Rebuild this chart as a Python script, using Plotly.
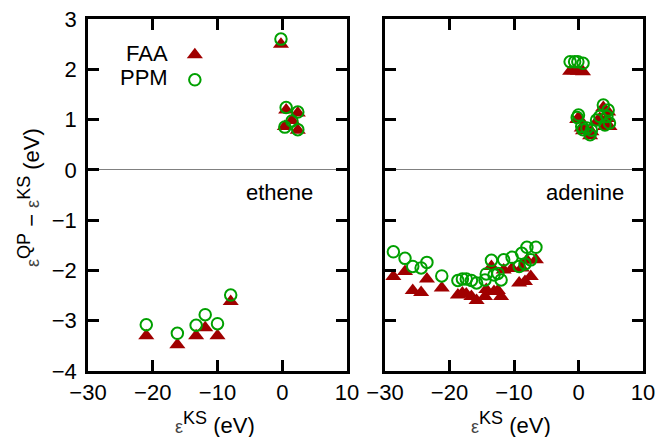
import plotly.graph_objects as go
from plotly.subplots import make_subplots

# Quasiparticle corrections eps^QP - eps^KS (eV) versus Kohn-Sham energy eps^KS (eV)
# FAA = full frequency (analytic) approach, PPM = plasmon-pole model

# ethene
eth_ks = [-21.0, -16.2, -13.3, -11.9, -10.0, -7.96, -0.2, 0.6, 2.4, 1.5, 0.4, 2.4]
eth_faa = [-3.30, -3.48, -3.30, -3.14, -3.30, -2.62, 2.50, 1.19, 1.13, 0.98, 0.86, 0.79]
eth_ppm = [-3.08, -3.25, -3.09, -2.88, -3.06, -2.49, 2.60, 1.24, 1.15, 0.97, 0.85, 0.80]

# adenine
ade_ks = [-28.7, -26.9, -25.7, -24.4, -23.5, -21.2, -18.7, -18.0, -17.4, -16.6,
          -15.8, -14.5, -14.3, -13.5, -13.1, -12.5, -12.0, -11.6, -10.3, -9.2,
          -8.8, -8.3, -8.0, -7.4, -6.6,
          -1.3, -0.6, -0.1, 0.7,
          -0.2, 0.0, 0.5, 0.7, 1.3, 1.8, 2.0, 2.8, 3.3, 3.85, 4.4, 4.6, 4.1, 4.8]
ade_faa = [-2.12, -2.02, -2.40, -2.44, -2.17, -2.35, -2.49, -2.45, -2.47, -2.52,
           -2.60, -2.52, -2.38, -1.92, -2.42, -2.40, -2.52, -1.99, -1.96, -2.25,
           -1.95, -2.22, -1.80, -2.12, -1.79,
           1.96, 1.97, 1.96, 1.95,
           1.00, 1.03, 0.83, 0.78, 0.80, 0.68, 0.76, 0.95, 1.02, 1.24, 1.02, 1.15, 0.86, 0.86]
ade_ppm = [-1.63, -1.76, -1.92, -1.95, -1.84, -2.11, -2.20, -2.17, -2.17, -2.20,
           -2.25, -2.19, -2.07, -1.80, -2.09, -2.06, -2.19, -1.79, -1.74, -1.92,
           -1.66, -1.87, -1.54, -1.79, -1.54,
           2.15, 2.15, 2.15, 2.12,
           1.04, 1.09, 0.86, 0.80, 0.83, 0.70, 0.79, 0.99, 1.06, 1.29, 1.06, 1.19, 0.89, 0.93]

x_ticks = [-30, -20, -10, 0, 10]
y_ticks = [-4, -3, -2, -1, 0, 1, 2, 3]

# legend keys (drawn in the ethene panel, labels to the left of the symbols)
legend_names = ["FAA", "PPM"]
legend_x = [-13.5, -13.5]
legend_y = [2.29, 1.79]
legend_label_x = -17.3
legend_label_y = [2.32, 1.84]

RED = "#a00000"
GREEN = "#00a000"
FONT = "Liberation Sans, Arial, sans-serif"

fig = make_subplots(rows=1, cols=2, shared_yaxes=False, horizontal_spacing=0.05)

faa_marker = dict(symbol="triangle-up", size=14, color=RED, line=dict(width=0))
ppm_marker = dict(symbol="circle-open", size=11.5, color=GREEN, line=dict(width=2, color=GREEN))

for col, (xs, faa, ppm) in enumerate([(eth_ks, eth_faa, eth_ppm), (ade_ks, ade_faa, ade_ppm)], start=1):
    fig.add_trace(go.Scatter(x=xs, y=faa, mode="markers", marker=faa_marker,
                             name="FAA", showlegend=False), row=1, col=col)
    fig.add_trace(go.Scatter(x=xs, y=ppm, mode="markers", marker=ppm_marker,
                             name="PPM", showlegend=False), row=1, col=col)

fig.add_trace(go.Scatter(x=legend_x[:1], y=legend_y[:1], mode="markers", marker=faa_marker,
                         showlegend=False, hoverinfo="skip"), row=1, col=1)
fig.add_trace(go.Scatter(x=legend_x[1:], y=legend_y[1:], mode="markers", marker=ppm_marker,
                         showlegend=False, hoverinfo="skip"), row=1, col=1)

axis_common = dict(
    showline=True, linecolor="black", linewidth=2.5, mirror="ticks",
    ticks="inside", ticklen=11, tickwidth=2.5, tickcolor="black",
    showgrid=False, automargin=False,
    tickfont=dict(size=22, color="black", family=FONT),
)

fig.update_xaxes(range=[-30, 10], tickvals=x_ticks, zeroline=False,
                 ticklabelstandoff=0, **axis_common)
fig.update_yaxes(range=[-4, 3], tickvals=y_ticks, zeroline=True,
                 zerolinecolor="#808080", zerolinewidth=1, ticklabelstandoff=4, **axis_common)
fig.update_yaxes(showticklabels=False, row=1, col=2)

fig.update_layout(
    template="none",
    width=658, height=437,
    margin=dict(l=0, r=0, t=0, b=0, pad=0, autoexpand=False),
    paper_bgcolor="white", plot_bgcolor="white",
    font=dict(family=FONT, size=22, color="black"),
    xaxis=dict(domain=[88 / 658, 347 / 658]),
    xaxis2=dict(domain=[385 / 658, 643 / 658]),
    yaxis=dict(domain=[1 - 371 / 437, 1 - 19 / 437]),
    yaxis2=dict(domain=[1 - 371 / 437, 1 - 19 / 437]),
    showlegend=False,
)

EPS = "<span style='font-size:18px;fill:#444'>ε</span>"
KS = "<sup><span style='font-size:18px'>KS</span></sup>"
QP = "<sup><span style='font-size:18px'>QP</span></sup>"
x_title = EPS + KS + " (eV)"
y_title = EPS + QP + " − " + EPS + KS + " (eV)"

centered = dict(showarrow=False, xanchor="center", yanchor="middle", font=dict(size=22))
annotations = [
    dict(text="ethene", x=-0.35, y=-0.46, xref="x", yref="y", **centered),
    dict(text="adenine", x=1.0, y=-0.46, xref="x2", yref="y2", **centered),
    dict(text=x_title, x=215 / 658, y=1 - 423 / 437, xref="paper", yref="paper", **centered),
    dict(text=x_title, x=511 / 658, y=1 - 423 / 437, xref="paper", yref="paper", **centered),
    dict(text=y_title, x=29 / 658, y=1 - 198 / 437, xref="paper", yref="paper",
         textangle=-90, **centered),
]
for name, ly in zip(legend_names, legend_label_y):
    annotations.append(dict(text=name, x=legend_label_x, y=ly, xref="x", yref="y",
                            xanchor="right", yanchor="middle", showarrow=False,
                            font=dict(size=22)))
fig.update_layout(annotations=annotations)

fig.write_html("out.html")
